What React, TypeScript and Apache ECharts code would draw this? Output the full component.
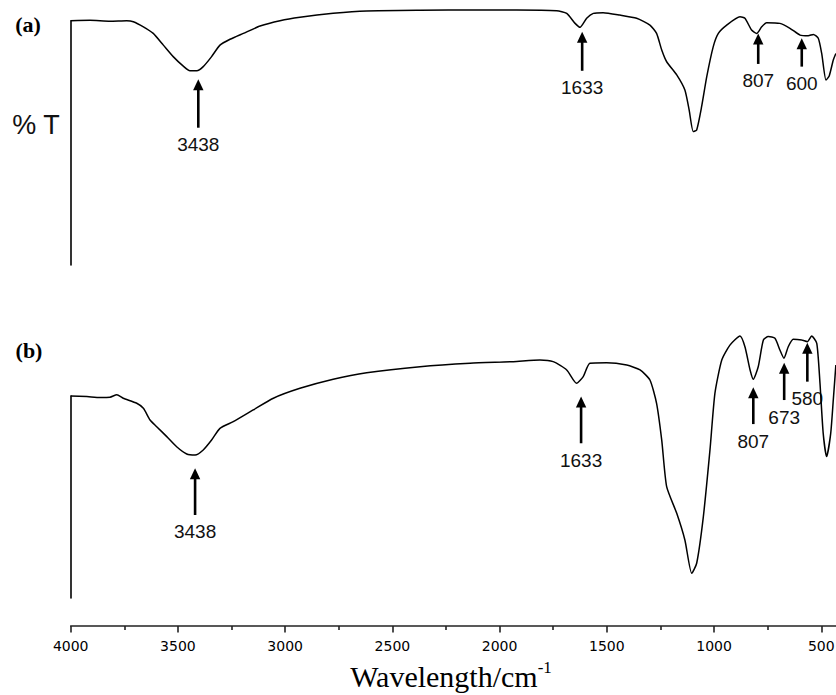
import React, { useEffect, useRef } from "react";
import * as echarts from "echarts";

// Panel (a): wavenumber (cm-1) and transmittance (arbitrary %T units, 100 = start level)
const waveA = [4000, 3910, 3817, 3739, 3708, 3661, 3615, 3568, 3522, 3475, 3444, 3412, 3382, 3343, 3304, 3257, 3195, 3117, 3024, 2931, 2776, 2620, 2371, 2107, 1920, 1734, 1687, 1648, 1625, 1594, 1563, 1517, 1439, 1361, 1299, 1268, 1244, 1221, 1174, 1136, 1116, 1097, 1081, 1058, 1034, 1004, 980, 941, 879, 856, 825, 801, 778, 755, 693, 646, 599, 561, 537, 514, 498, 478, 463, 444, 432];
const transA = [100, 100.2, 99.8, 100, 99.6, 97.5, 94.8, 90, 85.3, 81.4, 79.5, 79.5, 81.2, 85.3, 90, 92.4, 94.8, 97.8, 100, 101.4, 103, 104, 104.3, 104.4, 104.4, 104.1, 103, 98.9, 97.3, 101, 103, 103.3, 102.3, 101, 98.2, 94.8, 88, 83.2, 77.8, 71.6, 63.4, 54.6, 55.3, 64.8, 77.1, 89.3, 94.8, 98.2, 101.6, 101, 96.2, 94.8, 97.5, 99.2, 98.9, 96.9, 94.1, 93.8, 94.4, 92.8, 86.6, 75.7, 77.4, 83.9, 86.6];

// Panel (b)
const waveB = [4000, 3925, 3863, 3817, 3785, 3755, 3692, 3661, 3630, 3599, 3552, 3506, 3459, 3420, 3382, 3343, 3304, 3242, 3149, 3055, 2931, 2776, 2620, 2371, 2138, 1936, 1812, 1750, 1687, 1641, 1610, 1579, 1501, 1407, 1345, 1299, 1268, 1244, 1221, 1174, 1136, 1104, 1081, 1050, 1019, 996, 964, 926, 879, 856, 832, 817, 794, 770, 747, 716, 693, 674, 654, 631, 591, 565, 545, 521, 506, 491, 475, 456, 444, 432];
const transB = [100, 99.7, 99.3, 99.4, 100.6, 98.9, 96.4, 93.9, 88.1, 84.8, 79.9, 74.9, 71.3, 70.8, 73.3, 78.2, 84, 87.3, 93.1, 98.9, 103.8, 108.3, 111.5, 114.5, 116.2, 117, 117.8, 117, 112.9, 106.3, 109.6, 116.2, 116.5, 115.3, 112.9, 107.9, 96.4, 78.2, 55.1, 41.9, 28.7, 12.2, 17.2, 40.2, 73.3, 101.3, 117.8, 125.2, 129.7, 124.4, 112.9, 108.3, 114.5, 127.7, 129.4, 128.6, 122.8, 118.7, 124.4, 128.1, 127.7, 126.9, 129.7, 126.1, 106.3, 81.5, 70, 81.5, 98, 115.3];

// Peak annotations (label, wavenumber of arrow, arrow tip / base in %T units)
const peakLabelsA = ["3438", "1633", "807", "600"];
const peakWaveA = [3405, 1615, 794, 591];
const peakTipA = [76, 95.5, 94.8, 92.8];
const peakBaseA = [56.2, 79.5, 82.3, 81.2];

const peakLabelsB = ["3438", "1633", "807", "673", "580"];
const peakWaveB = [3420, 1620, 817, 673, 565];
const peakTipB = [64.2, 99.7, 104.3, 116.5, 126.4];
const peakBaseB = [41.1, 76.6, 86.1, 98, 107.1];

const xTickMin = 0;
const xTickMax = 4000;
const xTickStep = 500;

const GRID_LEFT = 70.7;
const GRID_WIDTH = 857.8;
const CHART_W = 932;

function arrowSeries(idx: number, labels: string[], waves: number[], tips: number[], bases: number[]) {
  return {
    type: "custom",
    xAxisIndex: idx,
    yAxisIndex: idx,
    clip: false,
    silent: true,
    data: waves.map((w, i) => [w, tips[i], bases[i]]),
    renderItem: (params: any, api: any) => {
      const i = params.dataIndex;
      const tip = api.coord([api.value(0), api.value(1)]);
      const base = api.coord([api.value(0), api.value(2)]);
      return {
        type: "group",
        children: [
          {
            type: "line",
            shape: { x1: tip[0], y1: tip[1] + 8, x2: base[0], y2: base[1] },
            style: { stroke: "#000", lineWidth: 2.6 },
          },
          {
            type: "polygon",
            shape: {
              points: [
                [tip[0], tip[1]],
                [tip[0] - 5.2, tip[1] + 11],
                [tip[0] + 5.2, tip[1] + 11],
              ],
            },
            style: { fill: "#000" },
          },
          {
            type: "text",
            style: {
              text: labels[i],
              x: base[0],
              y: base[1] + 17,
              align: "center",
              verticalAlign: "middle",
              fontSize: 19,
              fontFamily: "Liberation Sans",
              fill: "#111",
            },
          },
        ],
      };
    },
  };
}

export default function App() {
  const ref = useRef<HTMLDivElement>(null);

  useEffect(() => {
    document.body.style.margin = "0";
    if (!ref.current) return;
    const chart = echarts.init(ref.current, undefined, { renderer: "svg" });

    const hiddenX = (gi: number) => ({
      type: "value",
      gridIndex: gi,
      min: xTickMin,
      max: xTickMax,
      inverse: true,
      show: false,
    });
    const panelY = (gi: number) => ({
      type: "value",
      gridIndex: gi,
      min: 0,
      max: 100,
      axisLine: { show: true, onZero: false, lineStyle: { color: "#000", width: 1.6 } },
      axisTick: { show: false },
      axisLabel: { show: false },
      splitLine: { show: false },
    });

    chart.setOption({
      animation: false,
      backgroundColor: "#fff",
      grid: [
        { left: GRID_LEFT, top: 20.7, width: GRID_WIDTH, height: 244.3 },
        { left: GRID_LEFT, top: 396, width: GRID_WIDTH, height: 202 },
        { left: GRID_LEFT, top: 600, width: GRID_WIDTH, height: 26 },
      ],
      xAxis: [
        hiddenX(0),
        hiddenX(1),
        {
          type: "value",
          gridIndex: 2,
          min: xTickMin,
          max: xTickMax,
          interval: xTickStep,
          inverse: true,
          position: "bottom",
          axisLine: { show: true, onZero: false, lineStyle: { color: "#222", width: 1.6 } },
          axisTick: { show: true, length: 6.5, lineStyle: { color: "#222", width: 1.6 } },
          minorTick: { show: true, splitNumber: 2, length: 4, lineStyle: { color: "#222", width: 1.6 } },
          axisLabel: {
            show: true,
            showMinLabel: false,
            margin: 13,
            fontSize: 14,
            fontFamily: "DejaVu Sans",
            color: "#000",
            formatter: (v: number) => (v === 0 ? "" : String(v)),
          },
          splitLine: { show: false },
          minorSplitLine: { show: false },
        },
      ],
      yAxis: [
        panelY(0),
        panelY(1),
        { type: "value", gridIndex: 2, min: 0, max: 1, show: false },
      ],
      series: [
        {
          type: "line",
          xAxisIndex: 0,
          yAxisIndex: 0,
          data: waveA.map((w, i) => [w, transA[i]]),
          showSymbol: false,
          smooth: 0.2,
          clip: false,
          lineStyle: { color: "#000", width: 1.5 },
          silent: true,
        },
        {
          type: "line",
          xAxisIndex: 1,
          yAxisIndex: 1,
          data: waveB.map((w, i) => [w, transB[i]]),
          showSymbol: false,
          smooth: 0.2,
          clip: false,
          lineStyle: { color: "#000", width: 1.5 },
          silent: true,
        },
        arrowSeries(0, peakLabelsA, peakWaveA, peakTipA, peakBaseA),
        arrowSeries(1, peakLabelsB, peakWaveB, peakTipB, peakBaseB),
      ],
      graphic: [
        {
          type: "text",
          x: 28,
          y: 24,
          style: {
            text: "(a)",
            align: "center",
            verticalAlign: "middle",
            fontSize: 22,
            fontWeight: "bold",
            fontFamily: "Liberation Serif",
            fill: "#000",
          },
        },
        {
          type: "text",
          x: 29,
          y: 350,
          style: {
            text: "(b)",
            align: "center",
            verticalAlign: "middle",
            fontSize: 22,
            fontWeight: "bold",
            fontFamily: "Liberation Serif",
            fill: "#000",
          },
        },
        {
          type: "text",
          x: 36,
          y: 125,
          style: {
            text: "% T",
            align: "center",
            verticalAlign: "middle",
            fontSize: 27,
            fontFamily: "Liberation Sans",
            fill: "#111",
          },
        },
        {
          type: "text",
          x: 451,
          y: 675,
          style: {
            text: "{a|Wavelength/cm}{b|-1}",
            align: "center",
            verticalAlign: "middle",
            rich: {
              a: { fontSize: 30, fontFamily: "Liberation Serif", fill: "#000", lineHeight: 32, verticalAlign: "bottom" },
              b: { fontSize: 17, fontFamily: "Liberation Serif", fill: "#000", lineHeight: 32, verticalAlign: "top" },
            },
          },
        },
      ],
    });

    return () => chart.dispose();
  }, []);

  return (
    <div style={{ position: "absolute", left: 0, top: 0, width: 836, height: 695, overflow: "hidden", background: "#fff" }}>
      <div ref={ref} style={{ width: CHART_W, height: 695 }} />
    </div>
  );
}
